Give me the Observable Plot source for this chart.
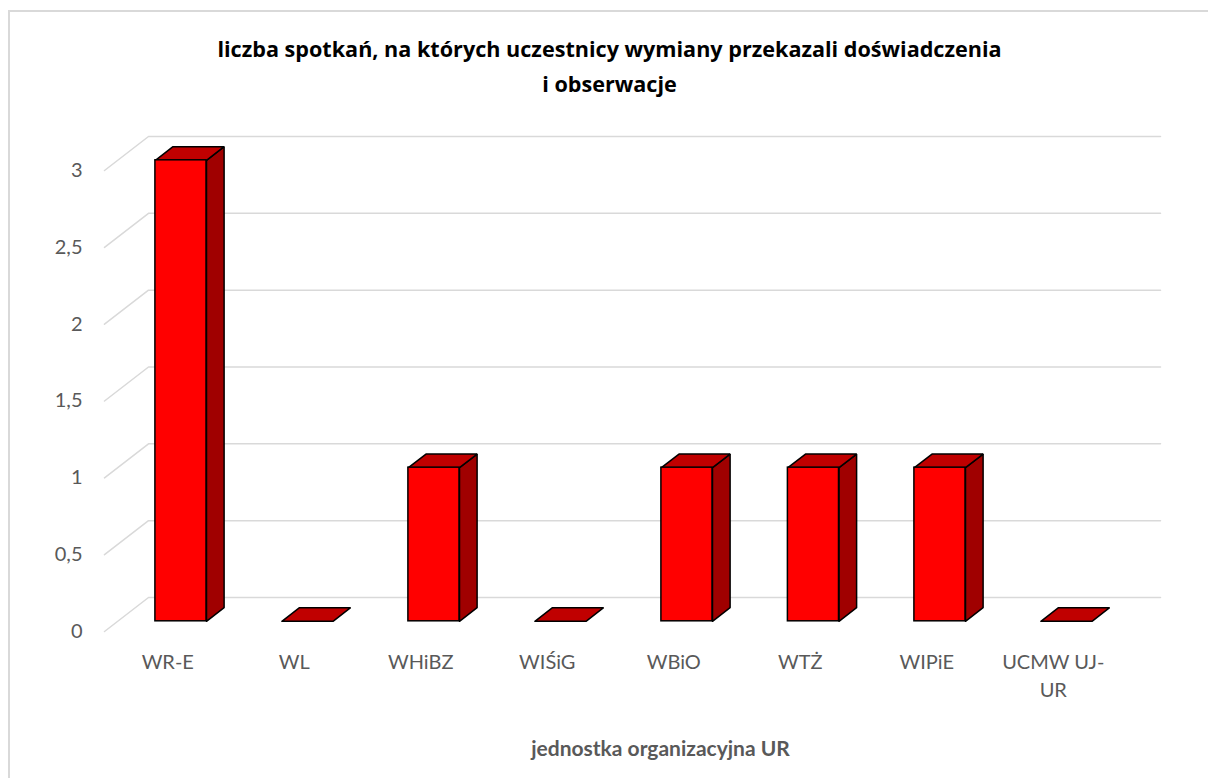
<!DOCTYPE html>
<html><head><meta charset="utf-8">
<script src="https://cdn.jsdelivr.net/npm/d3@7"></script>
<script src="https://cdn.jsdelivr.net/npm/@observablehq/plot@0.6"></script>
<style>
html,body{margin:0;padding:0;background:#fff;}
#wrap{position:relative;width:1208px;height:778px;overflow:hidden;}
#border{position:absolute;left:8px;top:10px;width:1400px;height:1000px;border:2px solid #d9d9d9;box-sizing:border-box;}
#chart{position:absolute;left:0;top:0;}
</style></head><body>
<div id="wrap"><div id="border"></div><div id="chart"></div></div>
<script>
// ---- data ----
const categories = ["WR-E", "WL", "WHiBZ", "WIŚiG", "WBiO", "WTŻ", "WIPiE", "UCMW UJ-\nUR"];
const values = [3, 0, 1, 0, 1, 1, 1, 0];
const yTicks = [0, 0.5, 1, 1.5, 2, 2.5, 3];
const titleText = "liczba spotkań, na których uczestnicy wymiany przekazali doświadczenia\ni obserwacje";
const xTitleText = "jednostka organizacyjna UR";

// ---- 3D (oblique) projection helpers, in data units ----
const kx = 44 / 126.5, ky = 34 / 153.7; // full depth vector
const d0 = 0.3, d1 = 0.7, halfW = 0.202;
const bars = categories.map((c, i) => ({c, i, v: values[i], xa: i + 0.5 - halfW, xb: i + 0.5 + halfW}));
const P = (id, x, y, d) => ({id, x: x + kx * d, y: y + ky * d});
const tops = bars.flatMap(b => [P(b.i, b.xa, b.v, d0), P(b.i, b.xb, b.v, d0), P(b.i, b.xb, b.v, d1), P(b.i, b.xa, b.v, d1), P(b.i, b.xa, b.v, d0)]);
const sides = bars.filter(b => b.v > 0).flatMap(b => [P(b.i, b.xb, 0, d0), P(b.i, b.xb, b.v, d0), P(b.i, b.xb, b.v, d1), P(b.i, b.xb, 0, d1), P(b.i, b.xb, 0, d0)]);
const grid = yTicks.flatMap(t => [P(t, 0, t, 0), P(t, 0, t, 1), P(t, categories.length, t, 1)]);
const fronts = bars.filter(b => b.v > 0);

const font = "Lato, 'Open Sans', sans-serif";
const chart = Plot.plot({
  width: 1208, height: 778,
  marginLeft: 104, marginRight: 92, marginTop: 170, marginBottom: 147,
  style: {fontFamily: font, background: "transparent", overflow: "visible"},
  x: {type: "linear", domain: [0, categories.length], axis: null},
  y: {domain: [0, 3], axis: null},
  marks: [
    Plot.line(grid, {x: "x", y: "y", z: "id", stroke: "#d9d9d9", strokeWidth: 1.5, strokeLinejoin: "miter"}),
    Plot.axisY(yTicks, {tickSize: 0, tickPadding: 22, tickFormat: d => String(d).replace(".", ","), fontSize: 20, color: "#595959", label: null}),
    Plot.axisX(bars.map(b => b.i + 0.5), {tickSize: 0, tickPadding: 18, tickFormat: d => categories[Math.floor(d)], fontSize: 20, lineHeight: 1.4, color: "#595959", label: null}),
    Plot.line(sides, {x: "x", y: "y", z: "id", fill: "#a00000", stroke: "black", strokeWidth: 1.5, strokeLinejoin: "miter"}),
    Plot.line(tops, {x: "x", y: "y", z: "id", fill: "#c00000", stroke: "black", strokeWidth: 1.5, strokeLinejoin: "miter"}),
    Plot.rect(fronts, {x1: b => b.xa + kx * d0, x2: b => b.xb + kx * d0, y1: () => ky * d0, y2: b => b.v + ky * d0, fill: "#ff0000", stroke: "black", strokeWidth: 1.5}),
    Plot.text([titleText], {frameAnchor: "top", dx: -1, dy: -138, lineAnchor: "top", text: d => d, fontFamily: "'Open Sans', sans-serif", fontSize: 21.6, fontWeight: "bold", fill: "#000", lineHeight: 1.6}),
    Plot.text([xTitleText], {frameAnchor: "bottom", dx: 50, dy: 110, lineAnchor: "top", text: d => d, fontSize: 21, fontWeight: "bold", fill: "#595959"})
  ]
});
document.getElementById("chart").appendChild(chart);
</script>
</body></html>
